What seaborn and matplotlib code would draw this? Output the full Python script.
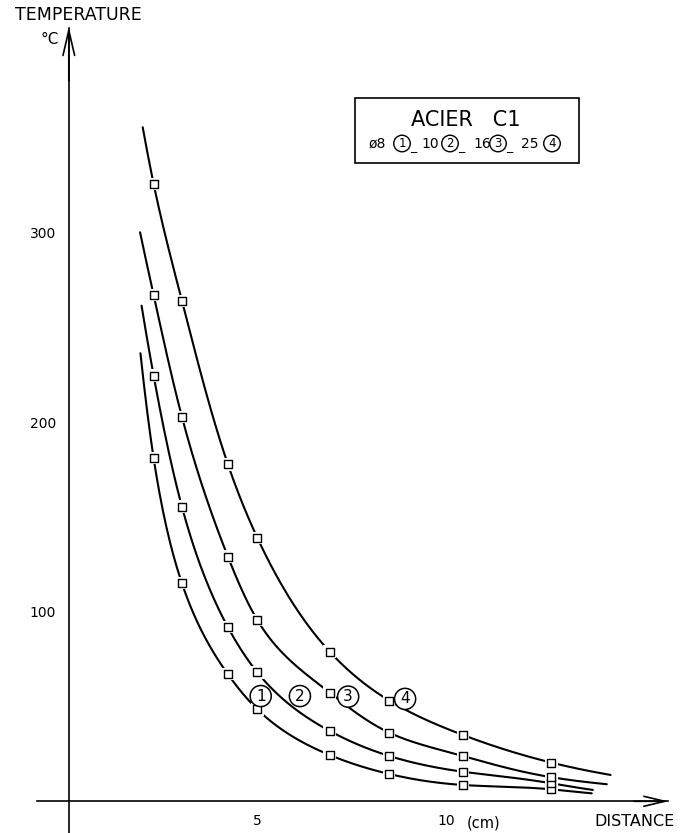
import numpy as np
import pandas as pd
import matplotlib.pyplot as plt
import matplotlib.patches as mpatches
import seaborn as sns

# valeurs (ACIER C1)
distance_cm = [2.25, 3.0, 4.22, 5.0, 6.92, 8.5, 10.45, 12.8]
curve_ids = ['1', '2', '3', '4']
diametres = ['8', '10', '16', '25']
temp_d8 = [181, 115, 67, 48.5, 24.4, 14.4, 8.6, 6.3]
temp_d10 = [224.5, 155.4, 91.8, 68.0, 37.1, 23.9, 15.6, 9.5]
temp_d16 = [267, 202.8, 129, 95.6, 57.3, 36.2, 23.9, 12.7]
temp_d25 = [325.6, 264, 177.7, 139, 78.9, 53.1, 35, 20.4]

# debut et fin des courbes tracees
start_x = [1.90, 1.93, 1.89, 1.96]
start_y = [236.3, 261.4, 300.1, 355.5]
end_x = [13.87, 13.9, 14.27, 14.37]
end_y = [4.2, 6.0, 9.0, 13.9]

# position des numeros cercles sur les courbes
label_x = [5.09, 6.13, 7.41, 8.92]
label_y = [55.5, 55.5, 55.2, 54.0]

xticks = [5, 10]
yticks = [100, 200, 300]

temps = [temp_d8, temp_d10, temp_d16, temp_d25]


def smooth(xs, ys, n=400):
    # trace lisse entre les points lus (spline naturelle sur log T)
    x = np.asarray(xs, float)
    y = np.log(np.asarray(ys, float))
    m = len(x)
    h = np.diff(x)
    A = np.zeros((m, m))
    r = np.zeros(m)
    A[0, 0] = A[-1, -1] = 1
    for i in range(1, m - 1):
        A[i, i - 1] = h[i - 1]
        A[i, i] = 2 * (h[i - 1] + h[i])
        A[i, i + 1] = h[i]
        r[i] = 6 * ((y[i + 1] - y[i]) / h[i] - (y[i] - y[i - 1]) / h[i - 1])
    M = np.linalg.solve(A, r)
    xx = np.linspace(x[0], x[-1], n)
    idx = np.clip(np.searchsorted(x, xx) - 1, 0, m - 2)
    x0, x1 = x[idx], x[idx + 1]
    hh = x1 - x0
    a = (x1 - xx) / hh
    b = (xx - x0) / hh
    yy = (a * y[idx] + b * y[idx + 1]
          + ((a ** 3 - a) * M[idx] + (b ** 3 - b) * M[idx + 1]) * hh ** 2 / 6)
    return xx, np.exp(yy)


rows_pts = []
rows_line = []
for k, cid in enumerate(curve_ids):
    for d, T in zip(distance_cm, temps[k]):
        rows_pts.append({'curve': cid, 'x': d, 'y': T})
    xs = [start_x[k]] + distance_cm + [end_x[k]]
    ys = [start_y[k]] + temps[k] + [end_y[k]]
    lx, ly = smooth(xs, ys)
    for a, b in zip(lx, ly):
        rows_line.append({'curve': cid, 'x': a, 'y': b})
pts = pd.DataFrame(rows_pts)
lines = pd.DataFrame(rows_line)

sns.set_style('white')
plt.rcParams['font.family'] = ['DejaVu Sans']
plt.rcParams['text.color'] = 'black'
plt.rcParams['xtick.color'] = 'black'
plt.rcParams['ytick.color'] = 'black'

W, H = 690, 833
fig = plt.figure(figsize=(W / 100, H / 100), dpi=100)
ax = fig.add_axes([0, 0, 1, 1])
ax.set_xlim(-1.825, 16.477)
ax.set_ylim(-16.72, 422.6)

sns.lineplot(data=lines, x='x', y='y', units='curve', estimator=None, sort=False,
             color='black', lw=1.5, legend=False, ax=ax)
# petits blancs autour des carres
sns.scatterplot(data=pts, x='x', y='y', marker='s', s=80, color='white',
                edgecolor='none', linewidth=0, legend=False, ax=ax, zorder=3)
sns.scatterplot(data=pts, x='x', y='y', marker='s', s=26, color='white',
                edgecolor='black', linewidth=1.0, legend=False, ax=ax, zorder=4)

# axes
for s in ['top', 'right']:
    ax.spines[s].set_visible(False)
ax.spines['left'].set_position(('data', 0))
ax.spines['bottom'].set_position(('data', 0))
ax.spines['left'].set_bounds(-16.72, 408)
ax.spines['bottom'].set_bounds(-0.85, 15.89)
for s in ['left', 'bottom']:
    ax.spines[s].set_linewidth(1.2)
    ax.spines[s].set_color('black')

ax.set_xticks(xticks)
ax.set_xticklabels([str(v) for v in xticks])
ax.set_yticks(yticks)
ax.set_yticklabels([str(v) for v in yticks])
ax.tick_params(axis='x', direction='out', length=5, width=1.1, pad=4, labelsize=10)
ax.tick_params(axis='y', direction='out', length=8, width=1.1, pad=1, labelsize=10)
ax.set_xlabel('')
ax.set_ylabel('')

ax.annotate('', xy=(0, 408.5), xytext=(0, 380),
            arrowprops=dict(arrowstyle='->,head_length=1.8,head_width=0.42',
                            lw=1.2, color='black', shrinkA=0, shrinkB=0))
ax.annotate('', xy=(15.9, 0), xytext=(15.0, 0),
            arrowprops=dict(arrowstyle='->,head_length=1.5,head_width=0.36',
                            lw=1.2, color='black', shrinkA=0, shrinkB=0))

# numeros cercles sur les courbes
for cid, lx, ly in zip(curve_ids, label_x, label_y):
    ax.text(lx, ly, cid, ha='center', va='center', fontsize=11, zorder=5,
            bbox=dict(boxstyle='circle,pad=0.2', fc='white', ec='black', lw=1.1))


def ftext(px, py, s, **kw):
    fig.text(px / W, 1 - py / H, s, ha='center', va='center', **kw)


ftext(78, 15.5, 'TEMPERATURE', fontsize=12.5)
ftext(50, 40, '°C', fontsize=11)
ftext(635, 822, 'DISTANCE', fontsize=11.5)
ftext(484, 823, '(cm)', fontsize=10.5)

# cartouche
fig.add_artist(mpatches.Rectangle((355 / W, 1 - 163 / H), 224 / W, 65 / H,
                                  transform=fig.transFigure, fill=False,
                                  ec='black', lw=1.2))
ftext(466, 119.5, 'ACIER   C1', fontsize=15)

num_x = [377, 430, 482, 530]
circ_x = [402, 450, 498, 552]
for k in range(4):
    txt = ('ø' + diametres[k]) if k == 0 else diametres[k]
    ftext(num_x[k], 143.5, txt, fontsize=10)
    ftext(circ_x[k], 143.5, curve_ids[k], fontsize=8.5,
          bbox=dict(boxstyle='circle,pad=0.15', fc='white', ec='black', lw=1.0))
    if k < 3:
        ftext(circ_x[k] + 11, 147, '_', fontsize=9)

fig.savefig('out.png', dpi=100)
